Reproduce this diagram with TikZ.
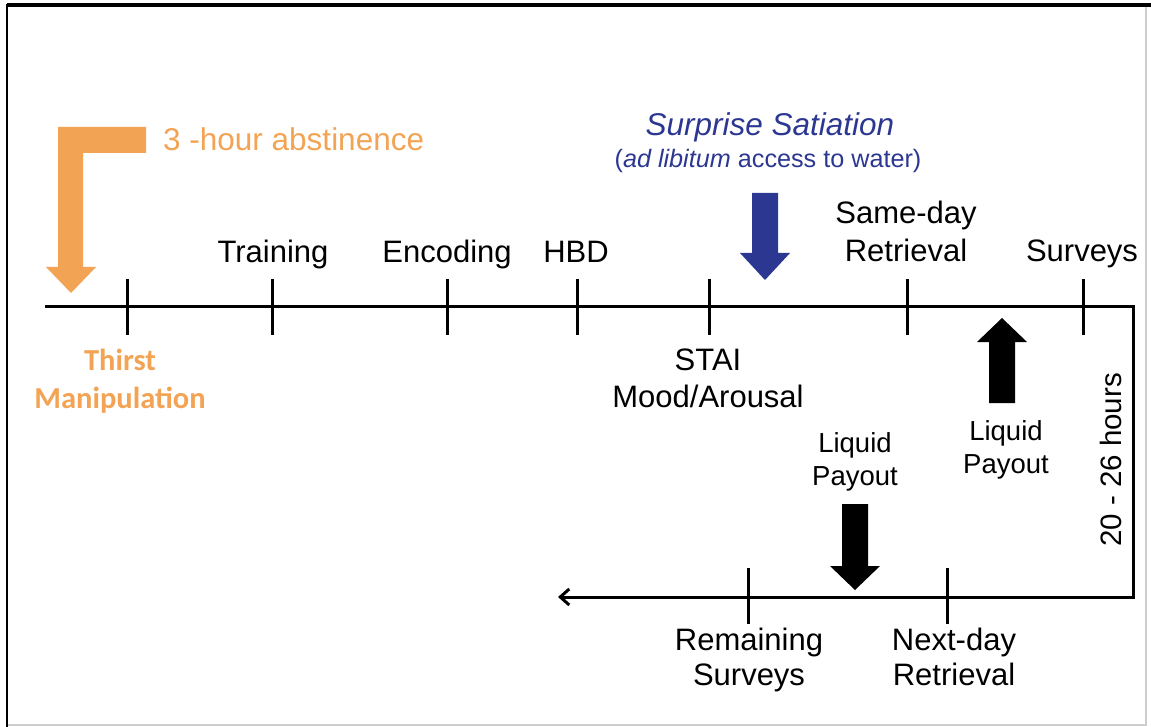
\documentclass[tikz,border=0pt]{standalone}
\usepackage{fontspec}
\setmainfont{Liberation Sans}
\newfontfamily\calib{Carlito}
\usetikzlibrary{arrows.meta}
\definecolor{thirst}{RGB}{242,163,84}
\definecolor{sated}{RGB}{43,55,145}
\definecolor{framegray}{RGB}{205,205,205}
\begin{document}
\begin{tikzpicture}[x=1pt,y=-1pt,
  lbl/.style={font=\fontsize{31}{37}\selectfont, align=center, inner sep=0pt, anchor=base},
  small/.style={font=\fontsize{27.5}{33}\selectfont, align=center, inner sep=0pt, anchor=base},
  axis/.style={line width=3pt, line join=miter},
  tickmark/.style={line width=3pt}]
\useasboundingbox (0,0) rectangle (1151,727);

% page frame
\draw[line width=4pt] (7,5) -- (1151,5);
\draw[line width=2pt] (7,4) -- (7,727);
\draw[framegray, line width=1.2pt] (1146,7) -- (1146,725) -- (8,725);

% timeline path: day one left to right, down, day two back to the left
\coordinate (start) at (45,307);
\coordinate (corner1) at (1133,307);
\coordinate (corner2) at (1133,597);
\coordinate (finish) at (558,597);
\draw[axis, -{Straight Barb[length=9pt,width=16pt,line width=3pt]}]
  (start) -- (corner1) -- (corner2) -- (finish);

% tick marks, first day
\foreach \x in {127,272,447,577,709,907,1083}
  \draw[tickmark] (\x,279) -- (\x,335);
% tick marks, second day
\foreach \x in {748,947}
  \draw[tickmark] (\x,568) -- (\x,624);

% events above the first-day line (base = last line)
\node[lbl] (training) at (273,263) {Training};
\node[lbl] (encoding) at (447,263) {Encoding};
\node[lbl] (hbd) at (576,263) {HBD};
\node[lbl, font=\fontsize{31}{38}\selectfont] (sameday) at (906,262) {Same-day\\Retrieval};
\node[lbl] (surveys) at (1082,262) {Surveys};

% events below the first-day line
\node[lbl] (stai) at (708,407) {STAI\\Mood/Arousal};
\node[font=\calib\bfseries\fontsize{30.5}{38}\selectfont, text=thirst, align=center, inner sep=0pt, anchor=base]
  (thirstlbl) at (120,408) {Thirst\\Manipulation};

% thirst manipulation: L-shaped orange arrow
\fill[thirst] (58,127) -- (146,127) -- (146,153) -- (83,153) -- (83,267)
  -- (96,267) -- (71,293) -- (46,267) -- (58,267) -- cycle;
\node[font=\fontsize{31.5}{36}\selectfont, text=thirst, inner sep=0pt, anchor=base west]
  (abst) at (163,151) {3 -hour abstinence};

% surprise satiation
\node[font=\itshape\fontsize{31.5}{37}\selectfont, text=sated, inner sep=0pt, anchor=base]
  (satiation) at (770,136) {Surprise Satiation};
\node[font=\fontsize{25.2}{29}\selectfont, text=sated, inner sep=0pt, anchor=base]
  (adlib) at (768,168) {(\textit{ad libitum} access to water)};
\fill[sated] (752,193) -- (778,193) -- (778,253) -- (790,253) -- (765,280)
  -- (740,253) -- (752,253) -- cycle;

% liquid payout after same-day retrieval
\fill[black] (989,403) -- (1015,403) -- (1015,342) -- (1027,342) -- (1002,318)
  -- (977,342) -- (989,342) -- cycle;
\node[small] (payout1) at (1006,473) {Liquid\\Payout};

% delay between sessions
\node[font=\fontsize{29.5}{35}\selectfont, inner sep=0pt, rotate=90] (delay) at (1111,460) {20 - 26 hours};

% liquid payout after next-day retrieval
\node[small] (payout2) at (855,485) {Liquid\\Payout};
\fill[black] (842,504) -- (868,504) -- (868,566) -- (880,566) -- (855,590)
  -- (830,566) -- (842,566) -- cycle;

% events below the second-day line
\node[lbl, font=\fontsize{31}{35}\selectfont] (remaining) at (749,685) {Remaining\\Surveys};
\node[lbl, font=\fontsize{31}{35}\selectfont] (nextday) at (954,685) {Next-day\\Retrieval};
\end{tikzpicture}
\end{document}
